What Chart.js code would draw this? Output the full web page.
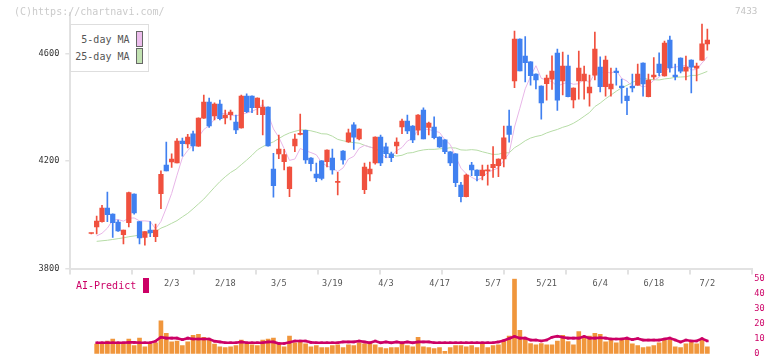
<!DOCTYPE html>
<html><head><meta charset="utf-8">
<script src="https://cdn.jsdelivr.net/npm/chart.js@4/dist/chart.umd.min.js"></script>
<style>
html,body{margin:0;padding:0;background:#fff;}
#wrap{position:relative;width:772px;height:361px;overflow:hidden;background:#fff;}
canvas{position:absolute;left:0;top:0;}
.t{position:absolute;font-family:"DejaVu Sans Mono",monospace;white-space:nowrap;line-height:10px;}
</style></head><body>
<div id="wrap">
<canvas id="c1" width="772" height="361"></canvas>
<canvas id="c2" width="772" height="361"></canvas>
<div class="t" style="left:14px;top:7px;font-size:10px;color:#cbcbcb;">(C)https://chartnavi.com/</div>
<div class="t" style="left:735px;top:6px;font-size:9.3px;color:#c4c4c4;">7433</div>
<div style="position:absolute;left:70px;top:24px;width:77px;height:46px;border:1px solid #dedede;background:#fff;"></div>
<div class="t" style="left:70px;width:59.5px;text-align:right;top:35px;font-size:10px;color:#555;">5-day MA</div>
<div style="position:absolute;left:136px;top:31px;width:5px;height:14px;border:1px solid #666;background:#ecbdec;"></div>
<div class="t" style="left:70px;width:59.5px;text-align:right;top:52px;font-size:10px;color:#555;">25-day MA</div>
<div style="position:absolute;left:136px;top:48px;width:5px;height:14px;border:1px solid #666;background:#c2e2b2;"></div>
<div class="t" style="left:76px;top:281px;font-size:10px;color:#cc0066;">AI-Predict</div>
<div style="position:absolute;left:142.5px;top:277.5px;width:6.5px;height:15.5px;background:#cc0066;"></div>
</div>
<script>
const dates = ['1/13','1/14','1/15','1/16','1/19','1/20','1/21','1/22','1/23','1/26','1/27','1/28','1/29','1/30',
'2/2','2/3','2/4','2/5','2/6','2/9','2/10','2/12','2/13','2/16','2/17','2/18','2/19','2/20','2/24','2/25','2/26','2/27',
'3/2','3/3','3/4','3/5','3/6','3/9','3/10','3/11','3/12','3/13','3/16','3/17','3/18','3/19','3/23','3/24','3/25','3/26','3/27','3/30','3/31',
'4/1','4/2','4/3','4/6','4/7','4/8','4/9','4/10','4/13','4/14','4/15','4/16','4/17','4/20','4/21','4/22','4/23','4/24','4/27','4/28','4/30',
'5/1','5/7','5/8','5/11','5/12','5/13','5/14','5/15','5/18','5/19','5/20','5/21','5/22','5/25','5/26','5/27','5/28','5/29',
'6/1','6/2','6/3','6/4','6/5','6/8','6/9','6/10','6/11','6/12','6/15','6/16','6/17','6/18','6/19','6/22','6/23','6/24','6/25','6/26','6/29','6/30',
'7/1','7/2'];
const tickLabels = ['2/3','2/18','3/5','3/19','4/3','4/17','5/7','5/21','6/4','6/18','7/2'];
const priceTicks = [3800, 4200, 4600];
const aiTicks = [0, 10, 20, 30, 40, 50];
const open = [3930,3955,3974,4025,4002,3973,3926,3970,4077,3974,3916,3943,3918,4078,4185,4196,4193,4274,4263,4301,
4255,4359,4419,4367,4411,4360,4372,4344,4323,4441,4441,4398,4372,4400,4170,4226,4197,4097,4256,4299,
4314,4211,4151,4200,4197,4211,4120,4237,4271,4334,4282,4093,4152,4193,4289,4252,4226,4256,4326,4348,
4330,4314,4389,4325,4326,4289,4278,4234,4226,4110,4067,4185,4166,4145,4163,4175,4182,4207,4330,4497,
4653,4590,4568,4523,4478,4487,4504,4601,4497,4553,4427,4497,4497,4453,4519,4549,4476,4468,4534,4478,
4441,4477,4482,4564,4439,4512,4560,4516,4649,4519,4582,4534,4575,4545,4575,4635];
const high = [3932,3995,4035,4084,4003,3980,3943,4084,4078,3975,3937,3974,3965,4163,4270,4226,4283,4285,4299,4311,
4360,4445,4434,4416,4426,4389,4389,4370,4445,4449,4442,4435,4426,4401,4228,4296,4243,4178,4300,4374,
4315,4212,4192,4201,4241,4244,4158,4238,4318,4343,4319,4192,4196,4290,4296,4266,4233,4286,4356,4370,
4331,4372,4397,4344,4364,4290,4279,4235,4227,4120,4151,4195,4167,4185,4185,4253,4208,4330,4389,4683,
4654,4662,4569,4524,4479,4519,4591,4616,4605,4594,4472,4608,4553,4519,4679,4587,4590,4545,4545,4504,
4471,4523,4560,4565,4523,4584,4602,4646,4664,4560,4583,4590,4576,4564,4709,4690];
const low = [3929,3929,3972,3974,3916,3938,3891,3955,4002,3891,3887,3918,3900,4022,4163,4176,4193,4218,4248,4237,
4254,4358,4325,4352,4352,4338,4352,4301,4322,4379,4379,4372,4297,4255,4065,4208,4167,4067,4234,4297,
4191,4163,4123,4129,4178,4151,4074,4188,4269,4243,4278,4078,4126,4188,4182,4212,4197,4227,4301,4301,
4268,4297,4282,4297,4282,4250,4227,4182,4104,4048,4066,4145,4126,4129,4110,4139,4141,4178,4270,4472,
4535,4494,4482,4468,4355,4426,4466,4388,4445,4438,4397,4430,4430,4404,4501,4457,4441,4441,4482,4415,
4372,4457,4481,4441,4438,4504,4516,4515,4530,4501,4527,4501,4453,4497,4574,4612];
const close = [3931,3976,4025,4000,3970,3940,3943,4082,4007,3914,3937,3933,3943,4150,4163,4207,4274,4264,4289,4256,
4359,4419,4330,4411,4357,4370,4382,4315,4441,4383,4398,4434,4400,4256,4108,4244,4224,4177,4281,4302,
4204,4190,4137,4135,4240,4167,4122,4204,4304,4288,4318,4177,4170,4289,4193,4227,4212,4270,4348,4312,
4278,4370,4282,4341,4286,4252,4234,4193,4119,4067,4147,4167,4145,4166,4164,4187,4207,4286,4299,4653,
4535,4565,4517,4501,4416,4508,4534,4426,4553,4439,4471,4545,4523,4475,4616,4476,4575,4486,4528,4472,
4424,4471,4523,4486,4501,4519,4528,4638,4546,4513,4534,4549,4549,4553,4635,4649];
const ma5 = [null,3921,3931,3950,3980,3982,3976,3987,3988,3977,3977,3975,3947,3975,4025,4079,4147,4212,4239,4258,
4288,4317,4331,4355,4375,4377,4370,4367,4373,4378,4384,4394,4411,4374,4319,4288,4246,4202,4207,4246,
4238,4231,4223,4194,4181,4174,4160,4174,4207,4217,4247,4258,4251,4248,4229,4211,4218,4238,4250,4274,
4284,4316,4318,4317,4311,4306,4279,4261,4217,4173,4152,4139,4129,4138,4158,4166,4174,4202,4229,4326,
4396,4468,4514,4554,4507,4501,4495,4477,4487,4492,4485,4487,4506,4491,4526,4527,4533,4526,4536,4507,
4497,4476,4484,4475,4481,4500,4511,4534,4546,4549,4552,4556,4538,4540,4564,4587];
const ma25 = [null,3901,3903,3905,3908,3911,3914,3918,3921,3924,3928,3931,3937,3950,3958,3968,3978,3992,4005,4022,
4040,4058,4080,4102,4123,4141,4157,4169,4186,4203,4221,4241,4253,4263,4271,4283,4295,4304,4310,4315,
4315,4312,4307,4301,4300,4292,4280,4275,4271,4268,4266,4258,4252,4246,4239,4232,4223,4218,4221,4229,
4231,4237,4241,4243,4243,4245,4246,4249,4248,4241,4240,4242,4240,4234,4229,4224,4225,4230,4230,4249,
4261,4275,4285,4291,4295,4304,4311,4317,4325,4331,4340,4352,4366,4380,4402,4415,4431,4445,4459,4472,
4481,4492,4501,4509,4503,4502,4501,4505,4507,4511,4512,4513,4518,4518,4525,4533];
const volume = [null,6.4,7.3,8.5,9.8,6.4,6.4,9.8,5.4,10.4,4.7,6.4,7.3,21.8,13.6,7.9,8.5,5.4,7.9,12.3,
12.9,11.0,9.8,6.4,4.7,4.1,4.7,5.4,9.1,6.4,6.0,5.4,9.1,9.8,10.4,7.3,4.7,11.7,7.3,7.9,
6.6,4.7,5.4,4.1,4.1,5.4,6.0,4.1,6.0,5.4,7.3,6.6,7.3,6.0,4.1,3.5,4.1,4.1,6.6,5.4,
4.7,11.0,4.7,4.1,3.5,4.1,1.6,4.1,5.4,5.4,4.7,5.4,4.1,7.3,4.1,5.4,6.0,8.5,11.7,49.5,
15.5,10.4,6.8,6.0,6.8,6.0,6.0,8.5,12.3,8.1,6.0,14.8,10.4,11.7,13.6,12.9,7.9,9.8,7.3,9.1,
9.8,6.6,5.4,4.1,4.7,5.4,7.3,9.8,9.1,4.7,4.1,6.6,7.9,6.6,9.1,4.7];
const aiPredict = [null,7.3,7.3,7.3,7.3,7.3,7.3,7.6,7.6,7.3,7.3,7.3,8.4,11.0,10.4,10.4,10.4,9.4,10.4,9.8,
9.8,9.8,9.8,8.4,7.9,7.3,7.3,7.3,7.9,7.3,7.3,7.3,7.3,7.9,7.9,6.8,6.8,7.6,8.5,8.5,
8.5,7.6,7.3,7.3,7.3,7.3,7.3,7.9,7.9,7.9,8.5,7.9,7.3,8.5,7.3,7.9,7.3,7.9,7.3,7.9,
7.3,7.9,7.9,7.9,7.3,7.3,7.3,7.3,7.3,7.3,7.3,7.3,7.3,7.3,7.3,7.3,7.9,8.8,10.1,11.5,
10.4,10.4,9.1,9.1,8.5,9.1,11.0,11.7,11.0,10.4,10.4,10.4,11.5,10.4,10.4,10.6,10.4,9.8,9.8,9.8,
10.4,9.4,10.1,9.1,9.1,9.1,9.1,9.8,10.4,9.1,7.8,9.1,8.5,8.5,10.1,8.5];

const UP = '#f0503e', DOWN = '#4080f0';
const XMIN = -3.92, XMAX = 123.39;
const FONT = '"DejaVu Sans Mono", monospace';
const labelAt = {};
tickLabels.forEach(t => { labelAt[dates.indexOf(t)] = t; });
const gridTicks = [];
for (let k = 0; k <= 11; k++) gridTicks.push(XMIN + (XMAX - XMIN) * k / 11);
const isLabel = v => Object.prototype.hasOwnProperty.call(labelAt, v);
const candleColor = open.map((o, i) => close[i] >= o ? UP : DOWN);
const pts = arr => arr.map((v, i) => ({x: i, y: v})).filter(p => p.y !== null);

new Chart(document.getElementById('c1'), {
  type: 'bar',
  data: { datasets: [
    { type: 'line', data: pts(ma5), borderColor: '#e8b6e8', borderWidth: 1, pointRadius: 0, tension: 0, order: 4 },
    { type: 'line', data: pts(ma25), borderColor: '#b6dca6', borderWidth: 1, pointRadius: 0, tension: 0, order: 5 },
    { data: low.map((l, i) => ({x: i, y: [l, high[i]]})), backgroundColor: candleColor, barThickness: 1, grouped: false, order: 2, borderWidth: 0 },
    { data: open.map((o, i) => ({x: i, y: [Math.min(o, close[i]), Math.max(o, close[i])]})), backgroundColor: candleColor, barThickness: 4.6, minBarLength: 1, grouped: false, order: 1, borderWidth: 0 }
  ]},
  options: {
    responsive: false, animation: false, devicePixelRatio: 1,
    layout: { padding: { left: 0, right: 19.7, top: 13, bottom: 0 } },
    plugins: { legend: { display: false }, tooltip: { enabled: false } },
    scales: {
      x: {
        type: 'linear', min: XMIN, max: XMAX, offset: false,
        afterFit: s => { s.height = 92.5; },
        afterBuildTicks: s => {
          const t = gridTicks.map(v => ({value: v}));
          Object.keys(labelAt).forEach(k => t.push({value: +k}));
          t.sort((a, b) => a.value - b.value);
          s.ticks = t;
        },
        ticks: { autoSkip: false, maxRotation: 0, padding: 4, color: '#555', font: { family: FONT, size: 8.6 },
          callback: v => isLabel(v) ? labelAt[v] : '' },
        grid: { offset: false, drawOnChartArea: false, drawTicks: true, tickLength: 6, lineWidth: 2,
          color: ctx => (ctx.tick && isLabel(ctx.tick.value)) ? 'rgba(0,0,0,0)' : '#e2e2e2',
          tickColor: ctx => (ctx.tick && isLabel(ctx.tick.value)) ? 'rgba(0,0,0,0)' : '#e2e2e2' },
        border: { display: true, color: '#e2e2e2', width: 2 }
      },
      y: {
        min: 3800, max: 4750,
        afterFit: s => { s.width = 70.3; },
        afterBuildTicks: s => { s.ticks = priceTicks.map(v => ({value: v})); },
        ticks: { padding: 6, color: '#333', font: { family: FONT, size: 8.6 }, callback: v => String(v) },
        grid: { drawOnChartArea: false, drawTicks: true, tickLength: 5, color: '#e2e2e2', lineWidth: 1.5 },
        border: { display: true, color: '#e2e2e2', width: 2 }
      }
    }
  }
});

new Chart(document.getElementById('c2'), {
  type: 'bar',
  data: { datasets: [
    { type: 'line', data: pts(aiPredict), borderColor: '#cc0066', borderWidth: 2.6, pointStyle: 'rect', pointRadius: 1.8,
      pointBackgroundColor: '#cc0066', pointBorderWidth: 0, tension: 0, order: 1 },
    { data: pts(volume), backgroundColor: '#f0963c', barThickness: 4, borderWidth: 0, order: 2 }
  ]},
  options: {
    responsive: false, animation: false, devicePixelRatio: 1,
    layout: { padding: { left: 70.3, right: 0, top: 278.3, bottom: 3.5 } },
    plugins: { legend: { display: false }, tooltip: { enabled: false } },
    scales: {
      x: { type: 'linear', display: false, min: XMIN, max: XMAX, offset: false, grid: { offset: false } },
      y: {
        position: 'right', min: 0, max: 50,
        afterFit: s => { s.width = 19.7; },
        afterBuildTicks: s => { s.ticks = aiTicks.map(v => ({value: v})); },
        ticks: { padding: 2, color: '#cc0066', font: { family: FONT, size: 8.6 }, callback: v => String(v) },
        grid: { display: false, drawTicks: false },
        border: { display: false }
      }
    }
  }
});
</script>
</body></html>
